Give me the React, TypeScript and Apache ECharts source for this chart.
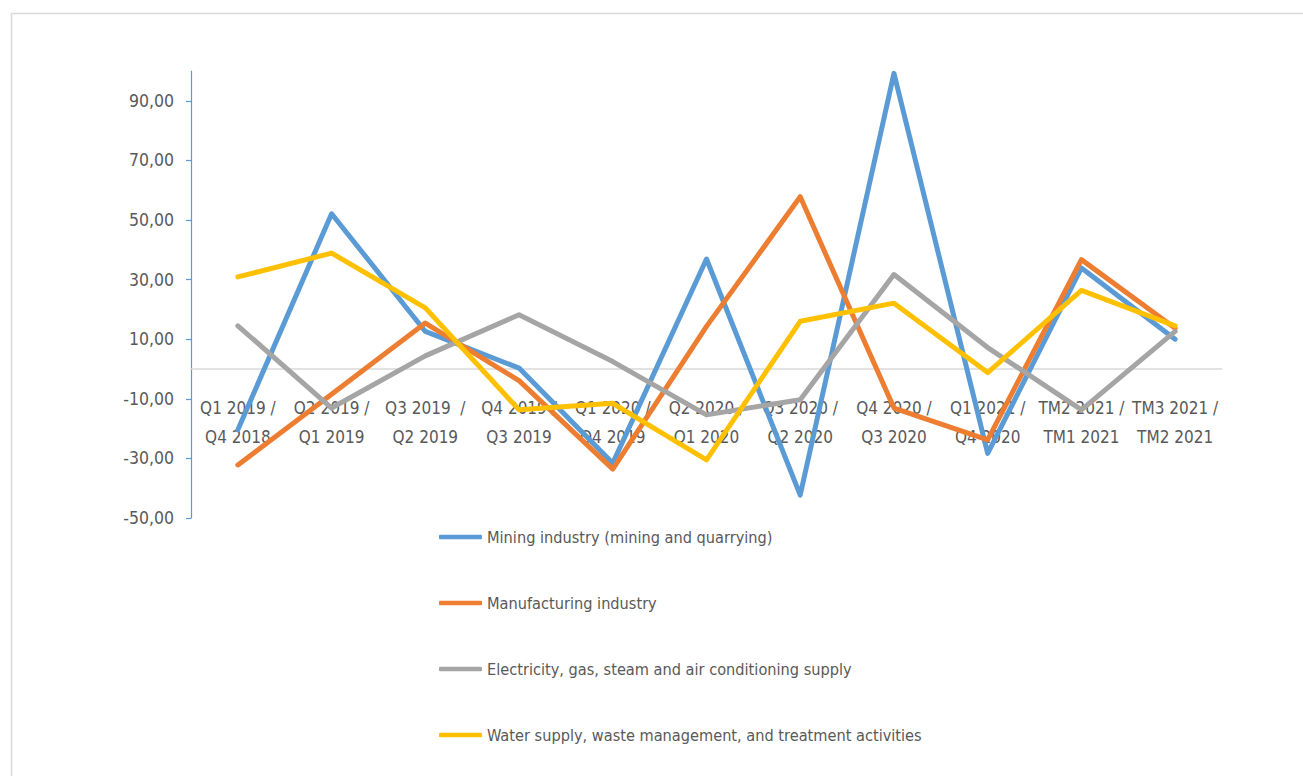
import React, { useEffect, useRef } from "react";
import * as echarts from "echarts";

const categories = [
  "Q1 2019 /\nQ4 2018",
  "Q2 2019 /\nQ1 2019",
  "Q3 2019  /\nQ2 2019",
  "Q4 2019 /\nQ3 2019",
  "Q1 2020 /\nQ4 2019",
  "Q2 2020 /\nQ1 2020",
  "Q3 2020 /\nQ2 2020",
  "Q4 2020 /\nQ3 2020",
  "Q1 2021 /\nQ4 2020",
  "TM2 2021 /\nTM1 2021",
  "TM3 2021 /\nTM2 2021",
];

const mining = [-20.4, 52.1, 12.6, 0.3, -31.6, 36.9, -42.3, 99.2, -28.3, 33.9, 10.0];
const manufacturing = [-32.2, -8.5, 15.4, -3.9, -33.6, 14.3, 57.8, -13.1, -23.8, 36.7, 13.7];
const electricity = [14.5, -13.1, 4.4, 18.2, 2.5, -15.4, -10.3, 31.7, 7.2, -13.7, 12.6];
const water = [30.9, 38.9, 20.5, -13.7, -11.5, -30.5, 16.0, 22.1, -1.2, 26.4, 14.5];

const seriesNames = [
  "Mining industry (mining and quarrying)",
  "Manufacturing industry",
  "Electricity, gas, steam and air conditioning supply",
  "Water supply, waste management, and treatment activities",
];
const seriesColors = ["#5b9bd5", "#ed7d31", "#a5a5a5", "#ffc000"];

const FONT = "'DejaVu Sans Condensed', 'Liberation Sans', sans-serif";

export default function App() {
  const ref = useRef<HTMLDivElement>(null);
  useEffect(() => {
    if (!ref.current) return;
    const chart = echarts.init(ref.current, undefined, { renderer: "svg" });
    const allData = [mining, manufacturing, electricity, water];
    const W = 1303;
    const gridLeft = 191;
    const gridTop = 71;
    const gridBottom = 258;
    const gridH = 776 - gridTop - gridBottom;
    const yMin = -50;
    const yMax = 100;
    const tickMax = 90;
    const tickLen = 5;
    const pxPerUnit = gridH / (yMax - yMin);
    const zeroOffset = pxPerUnit * (0 - yMin);
    const grid2Top = gridTop + pxPerUnit * (yMax - tickMax);
    chart.setOption({
      animation: false,
      backgroundColor: "#ffffff",
      textStyle: { fontFamily: FONT },
      graphic: [
        {
          type: "rect",
          shape: { x: 11.5, y: 13.5, width: 1400, height: 900 },
          style: { fill: "none", stroke: "#d9d9d9", lineWidth: 1.5 },
          silent: true,
          z: -10,
        },
      ],
      grid: [
        { left: gridLeft, right: 81, top: gridTop, bottom: gridBottom, containLabel: false },
        {
          left: gridLeft - tickLen,
          right: W - gridLeft,
          top: grid2Top,
          bottom: gridBottom,
          containLabel: false,
        },
      ],
      legend: {
        orient: "vertical",
        left: 434,
        top: 522,
        icon: "roundRect",
        itemWidth: 43,
        itemHeight: 4.5,
        itemGap: 46,
        data: seriesNames,
        textStyle: { color: "#595959", fontSize: 16.2, lineHeight: 20, fontFamily: FONT },
      },
      xAxis: [
        {
          type: "category",
          gridIndex: 0,
          data: categories,
          boundaryGap: true,
          offset: -zeroOffset,
          axisLine: { show: true, onZero: false, lineStyle: { color: "#d9d9d9", width: 1.5 } },
          axisTick: { show: false },
          axisLabel: {
            interval: 0,
            color: "#595959",
            fontSize: 17,
            lineHeight: 29,
            margin: 24,
            fontFamily: FONT,
          },
          splitLine: { show: false },
        },
        {
          type: "category",
          gridIndex: 1,
          data: categories,
          show: false,
        },
      ],
      yAxis: [
        {
          type: "value",
          gridIndex: 0,
          min: yMin,
          max: yMax,
          interval: 50,
          axisLine: { show: true, onZero: false, lineStyle: { color: "#5b9bd5", width: 1.2 } },
          axisTick: { show: false },
          axisLabel: { show: false },
          splitLine: { show: false },
        },
        {
          type: "value",
          gridIndex: 1,
          min: yMin,
          max: tickMax,
          interval: 20,
          axisLine: { show: false, onZero: false },
          axisTick: { show: false },
          axisLabel: {
            color: "#595959",
            fontSize: 17.5,
            margin: 12,
            fontFamily: FONT,
            formatter: (v: number) => v.toFixed(2).replace(".", ","),
          },
          splitLine: { show: true, lineStyle: { color: "#5b9bd5", width: 1.2 } },
        },
      ],
      series: seriesNames.map((name, i) => ({
        name,
        type: "line",
        xAxisIndex: 0,
        yAxisIndex: 0,
        data: allData[i],
        symbol: "none",
        color: seriesColors[i],
        lineStyle: { width: 5, color: seriesColors[i], cap: "round", join: "round" },
        z: 2 + i,
      })),
    });
    return () => chart.dispose();
  }, []);
  return (
    <div
      ref={ref}
      style={{ position: "absolute", left: 0, top: 0, width: 1303, height: 776 }}
    />
  );
}
